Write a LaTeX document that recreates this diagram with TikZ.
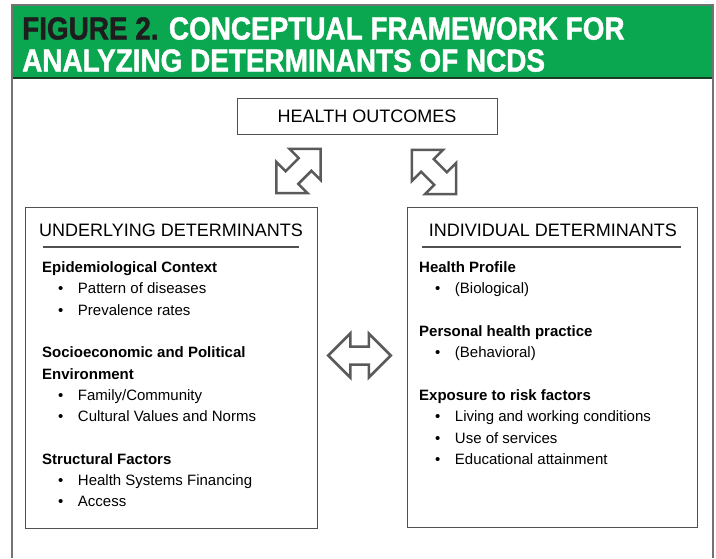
\documentclass[tikz,border=0pt]{standalone}
\usepackage{fontspec}
\setmainfont{Liberation Sans}
\newfontfamily\bannerface{Liberation Sans}[BoldFeatures={FakeBold=1.5}]
\usetikzlibrary{shapes.arrows}
\definecolor{figgreen}{RGB}{10,166,80}
\definecolor{bannerdark}{RGB}{25,60,35}
\definecolor{titleblack}{RGB}{30,28,30}
\definecolor{boxgray}{RGB}{80,80,80}
\definecolor{arrowgray}{RGB}{90,90,90}
\newcommand{\detitem}[1]{\hspace*{16pt}\textbullet\hspace*{14.5pt}#1}
\newcommand{\titlefont}{\bannerface\fontsize{30}{32}\selectfont\bfseries}
\begin{document}
\begin{tikzpicture}[x=1pt, y=-1pt,
  box/.style={draw=boxgray, line width=1pt, inner sep=0pt},
  blockarrow/.style={double arrow, draw=arrowgray, line width=2.5pt, fill=white,
    inner sep=7.75pt, double arrow head extend=13pt, double arrow tip angle=90,
    minimum height=62.5pt},
  heading/.style={font=\fontsize{18}{21.6}\selectfont, inner sep=0pt, anchor=base},
  listtext/.style={font=\fontsize{15}{21.3}\selectfont, align=left, anchor=north west, inner sep=0pt}]
\useasboundingbox[fill=white] (0,0) rectangle (716,558);

% banner and frame
\fill[figgreen] (12,5) rectangle (713,78);
\draw[bannerdark, line width=1.5pt] (12,78) -- (713,78);
\draw[boxgray!80, line width=1.3pt] (12,558) -- (12,5) -- (713,5) -- (713,558);
\node[anchor=base west, inner sep=0pt] (title1) at (22,39.5)
  {\scalebox{0.93}[1.06]{\titlefont\textcolor{titleblack}{FIGURE 2.} \textcolor{white}{CONCEPTUAL FRAMEWORK FOR}}};
\node[anchor=base west, inner sep=0pt] (title2) at (22,71.5)
  {\scalebox{0.93}[1.06]{\titlefont\textcolor{white}{ANALYZING DETERMINANTS OF NCDS}}};

% boxes
\node[box, minimum width=260pt, minimum height=36pt, font=\fontsize{18}{21.6}\selectfont] (outcomes) at (367,116) {HEALTH OUTCOMES};
\node[box, minimum width=292pt, minimum height=321pt] (underlying) at (171,367.5) {};
\node[box, minimum width=290pt, minimum height=320pt] (individual) at (552,367) {};

% block arrows
\node[blockarrow, rotate=45] (upleft) at (298.5,171) {};
\node[blockarrow, rotate=-45] (upright) at (434,172) {};
\node[blockarrow] (between) at (359.5,355.5) {};

% left box
\node[heading] (ulhead) at (171,236.5) {UNDERLYING DETERMINANTS};
\draw[boxgray, line width=1.5pt] (43,247) -- (299,247);
\node[listtext] (ultext) at (42,261.6) {%
  \textbf{Epidemiological Context}\\
  \detitem{Pattern of diseases}\\
  \detitem{Prevalence rates}\\[21.3pt]
  \textbf{Socioeconomic and Political}\\
  \textbf{Environment}\\
  \detitem{Family/Community}\\
  \detitem{Cultural Values and Norms}\\[21.3pt]
  \textbf{Structural Factors}\\
  \detitem{Health Systems Financing}\\
  \detitem{Access}};

% right box
\node[heading] (idhead) at (553,236.5) {INDIVIDUAL DETERMINANTS};
\draw[boxgray, line width=1.5pt] (422,247) -- (681,247);
\node[listtext] (idtext) at (419,261.6) {%
  \textbf{Health Profile}\\
  \detitem{(Biological)}\\[21.3pt]
  \textbf{Personal health practice}\\
  \detitem{(Behavioral)}\\[21.3pt]
  \textbf{Exposure to risk factors}\\
  \detitem{Living and working conditions}\\
  \detitem{Use of services}\\
  \detitem{Educational attainment}};
\end{tikzpicture}
\end{document}
